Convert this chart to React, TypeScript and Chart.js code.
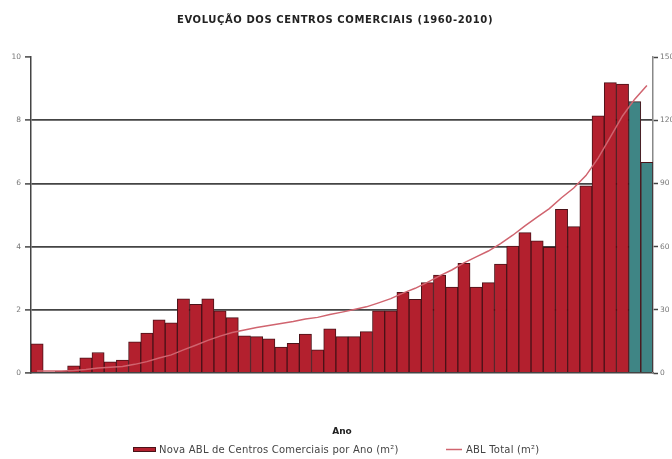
import { useEffect, useRef } from 'react';
import { Chart, registerables } from 'chart.js';

Chart.register(...registerables);

const titleText = 'EVOLUÇÃO DOS CENTROS COMERCIAIS (1960-2010)';
const xAxisTitle = 'Ano';
const barLabel = 'Nova ABL de Centros Comerciais por Ano (m²)';
const lineLabel = 'ABL Total (m²)';

const years = [
  '1960', '1961', '1962', '1963', '1964', '1965', '1966', '1967', '1968', '1969',
  '1970', '1971', '1972', '1973', '1974', '1975', '1976', '1977', '1978', '1979',
  '1980', '1981', '1982', '1983', '1984', '1985', '1986', '1987', '1988', '1989',
  '1990', '1991', '1992', '1993', '1994', '1995', '1996', '1997', '1998', '1999',
  '2000', '2001', '2002', '2003', '2004', '2005', '2006', '2007', '2008', '2009',
  '2010',
];

const novaABL = [
  0.92, 0.03, 0.05, 0.23, 0.48, 0.65, 0.35, 0.41, 0.99, 1.26,
  1.68, 1.59, 2.35, 2.17, 2.35, 1.97, 1.75, 1.18, 1.15, 1.08,
  0.82, 0.94, 1.23, 0.73, 1.4, 1.15, 1.15, 1.31, 1.97, 1.97,
  2.55, 2.33, 2.86, 3.1, 2.72, 3.47, 2.72, 2.86, 3.45, 4.02,
  4.44, 4.18, 3.98, 5.18, 4.63, 5.92, 8.14, 9.19, 9.14, 8.59,
  6.67,
];

const ablTotal = [
  0.9, 1.0, 1.0, 1.2, 1.7, 2.4, 2.7, 3.1, 4.1, 5.4,
  7.1, 8.6, 11.0, 13.2, 15.5, 17.5, 19.2, 20.4, 21.6, 22.6,
  23.5, 24.4, 25.6, 26.4, 27.8, 28.9, 30.1, 31.4, 33.3, 35.3,
  37.9, 40.2, 43.0, 46.1, 48.9, 52.3, 55.1, 57.9, 61.4, 65.4,
  69.8, 74.0, 78.0, 83.2, 87.8, 93.7, 102.0, 112.0, 122.0, 130.0,
  136.5,
];

const projectedYears = ['2009', '2010'];
const leftTicks = [0, 2, 4, 6, 8, 10];
const rightTicks = [0, 30, 60, 90, 120, 150];

const RED = '#b3202e';
const TEAL = '#3f8585';
const BAR_BORDER = '#4a1218';
const LINE = '#d0646f';
const GRID = '#444444';

const overlay = {
  id: 'overlay',
  afterDraw(chart: any) {
    const ctx = chart.ctx as CanvasRenderingContext2D;
    const area = chart.chartArea;
    ctx.save();
    ctx.fillStyle = '#222';
    ctx.textAlign = 'center';
    ctx.textBaseline = 'middle';
    ctx.font = 'bold 10px "DejaVu Sans"';
    (ctx as any).letterSpacing = '0.6px';
    ctx.fillText(titleText, 335, 20);
    (ctx as any).letterSpacing = '0px';

    ctx.font = 'bold 9px "DejaVu Sans"';
    ctx.fillText(xAxisTitle, (area.left + area.right) / 2, 432);

    // legend
    ctx.font = '10px "DejaVu Sans"';
    (ctx as any).letterSpacing = '0.2px';
    ctx.textAlign = 'left';
    ctx.fillStyle = RED;
    ctx.fillRect(133, 447, 23, 5);
    ctx.strokeStyle = BAR_BORDER;
    ctx.lineWidth = 1;
    ctx.strokeRect(133.5, 447.5, 22, 4);
    ctx.fillStyle = '#444';
    ctx.fillText(barLabel, 159, 450);

    ctx.strokeStyle = LINE;
    ctx.lineWidth = 1.5;
    ctx.beginPath();
    ctx.moveTo(446, 449.5);
    ctx.lineTo(462, 449.5);
    ctx.stroke();
    ctx.fillText(lineLabel, 466, 450);
    ctx.restore();
  },
};

export default function App() {
  const ref = useRef<HTMLCanvasElement | null>(null);

  useEffect(() => {
    if (!ref.current) return;
    const chart = new Chart(ref.current, {
      type: 'bar',
      data: {
        labels: years,
        datasets: [
          {
            type: 'line',
            label: lineLabel,
            data: ablTotal,
            yAxisID: 'y2',
            borderColor: LINE,
            borderWidth: 1.5,
            pointRadius: 0,
            tension: 0,
            order: 0,
          } as any,
          {
            type: 'bar',
            label: barLabel,
            data: novaABL,
            yAxisID: 'y',
            backgroundColor: years.map((y) => (projectedYears.includes(y) ? TEAL : RED)),
            borderColor: BAR_BORDER,
            borderWidth: 1,
            barPercentage: 1,
            categoryPercentage: 1,
            order: 1,
          } as any,
        ],
      },
      options: {
        responsive: false,
        animation: false,
        layout: { padding: { top: 57, left: 0, right: 0, bottom: 0 } },
        plugins: {
          legend: { display: false },
          title: { display: false },
          tooltip: { enabled: false },
        },
        scales: {
          x: {
            display: true,
            grid: { display: false },
            ticks: { display: false },
            border: { display: true, color: GRID, width: 1.5 },
            afterFit: (s: any) => {
              s.height = 86;
            },
          },
          y: {
            position: 'left',
            min: 0,
            max: 10,
            afterBuildTicks: (s: any) => {
              s.ticks = leftTicks.map((v) => ({ value: v }));
            },
            ticks: {
              font: { size: 7.5, family: '"DejaVu Sans"' },
              color: '#777',
              padding: 4,
            },
            grid: {
              color: (c: any) =>
                c.tick && c.tick.value > 0 && c.tick.value < 10 ? GRID : 'rgba(0,0,0,0)',
              lineWidth: 1.8,
              tickLength: 6,
              tickColor: GRID,
              tickWidth: 1.5,
            },
            border: { display: true, color: GRID, width: 1.5 },
            afterFit: (s: any) => {
              s.width = 31;
            },
          },
          y2: {
            position: 'right',
            min: 0,
            max: 150,
            afterBuildTicks: (s: any) => {
              s.ticks = rightTicks.map((v) => ({ value: v }));
            },
            ticks: {
              font: { size: 7.5, family: '"DejaVu Sans"' },
              color: '#777',
              padding: 2,
            },
            grid: {
              drawOnChartArea: false,
              tickLength: 5,
              tickColor: GRID,
              tickWidth: 1.5,
            },
            border: { display: true, color: '#888', width: 1.5 },
            afterFit: (s: any) => {
              s.width = 19;
            },
          },
        },
      },
      plugins: [overlay],
    });
    return () => chart.destroy();
  }, []);

  return (
    <div style={{ position: 'absolute', left: 0, top: 0, width: 672, height: 459, background: '#fff' }}>
      <canvas ref={ref} width={672} height={459} style={{ width: 672, height: 459, display: 'block' }} />
    </div>
  );
}
